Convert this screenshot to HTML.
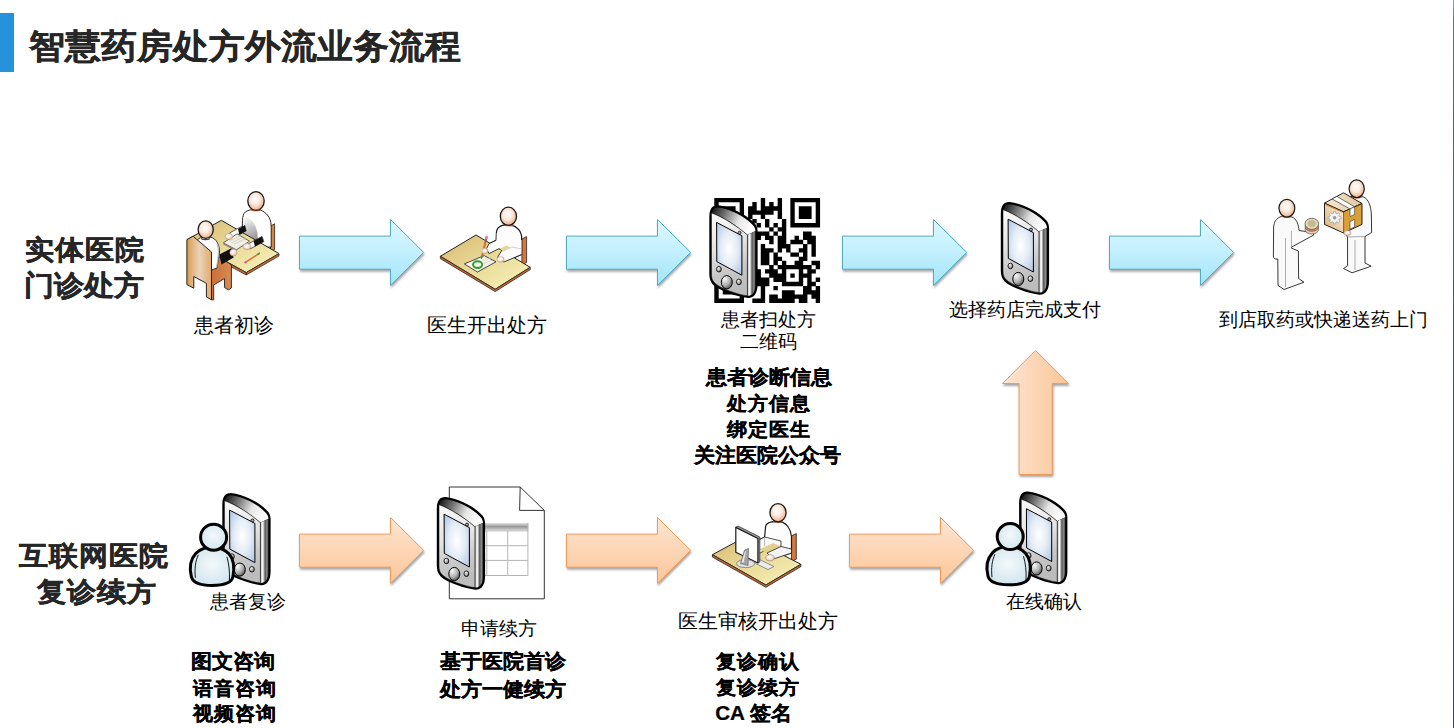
<!DOCTYPE html>
<html><head><meta charset="utf-8"><style>
html,body{margin:0;padding:0;background:#fff;}
body{width:1454px;height:728px;position:relative;overflow:hidden;font-family:"Liberation Sans",sans-serif;}
.t{position:absolute;white-space:nowrap;line-height:1;color:#000;transform-origin:0 0;}
#bar{position:absolute;left:0;top:13px;width:14px;height:59px;background:#2592db;}
#edge{position:absolute;left:1453px;top:0;width:1px;height:728px;background:linear-gradient(180deg,#86a0c8 0px,#5a7294 20px,#4b6488 100px,#3f5576 300px,#2e4870 700px);}
svg{position:absolute;left:0;top:0;}
</style></head><body>
<div id="bar"></div>
<div class="t" id="title" style="left:29.1px;top:29.6px;font-size:35.5px;transform:scaleY(0.95);font-weight:bold;-webkit-text-stroke:0.35px #262626;color:#262626;">智慧药房处方外流业务流程</div>
<div class="t" id="l1a" style="left:25.0px;top:235.6px;font-size:29.5px;transform:scaleY(0.93);font-weight:bold;-webkit-text-stroke:0.45px #262626;color:#262626;">实体医院</div>
<div class="t" id="l1b" style="left:24.0px;top:271.8px;font-size:29.625px;transform:scaleY(0.93);font-weight:bold;-webkit-text-stroke:0.45px #262626;color:#262626;">门诊处方</div>
<div class="t" id="t1" style="left:194.0px;top:316.0px;font-size:19.6px;">患者初诊</div>
<div class="t" id="t2" style="left:427.1px;top:315.8px;font-size:19.5px;">医生开出处方</div>
<div class="t" id="t3a" style="left:721.4px;top:310.5px;font-size:18.55px;">患者扫处方</div>
<div class="t" id="t3b" style="left:739.8px;top:333.0px;font-size:18.55px;">二维码</div>
<div class="t" id="t4" style="left:949.3px;top:301.4px;font-size:18.5px;">选择药店完成支付</div>
<div class="t" id="t5" style="left:1218.8px;top:310.5px;font-size:18.525px;">到店取药或快递送药上门</div>
<div class="t" id="b1" style="left:705.5px;top:368.2px;font-size:20.525px;transform:scaleY(0.95);font-weight:bold;-webkit-text-stroke:0.25px #000;">患者诊断信息</div>
<div class="t" id="b2" style="left:726.7px;top:394.4px;font-size:20.5px;transform:scaleY(0.95);font-weight:bold;-webkit-text-stroke:0.25px #000;">处方信息</div>
<div class="t" id="b3" style="left:726.5px;top:419.8px;font-size:20.5px;transform:scaleY(0.95);font-weight:bold;-webkit-text-stroke:0.25px #000;">绑定医生</div>
<div class="t" id="b4" style="left:693.8px;top:446.4px;font-size:20.525px;transform:scaleY(0.95);font-weight:bold;-webkit-text-stroke:0.25px #000;">关注医院公众号</div>
<div class="t" id="l2a" style="left:19.4px;top:542.2px;font-size:29.5px;transform:scaleY(0.93);font-weight:bold;-webkit-text-stroke:0.45px #262626;color:#262626;">互联网医院</div>
<div class="t" id="l2b" style="left:36.5px;top:578.1px;font-size:29.5px;transform:scaleY(0.93);font-weight:bold;-webkit-text-stroke:0.45px #262626;color:#262626;">复诊续方</div>
<div class="t" id="r1" style="left:209.6px;top:593.4px;font-size:18.5px;">患者复诊</div>
<div class="t" id="c1" style="left:191.1px;top:652.2px;font-size:20.625px;transform:scaleY(0.95);font-weight:bold;-webkit-text-stroke:0.25px #000;">图文咨询</div>
<div class="t" id="c2" style="left:192.6px;top:679.0px;font-size:20.5px;transform:scaleY(0.95);font-weight:bold;-webkit-text-stroke:0.25px #000;">语音咨询</div>
<div class="t" id="c3" style="left:192.6px;top:703.6px;font-size:20.5px;transform:scaleY(0.95);font-weight:bold;-webkit-text-stroke:0.25px #000;">视频咨询</div>
<div class="t" id="r2" style="left:460.7px;top:619.7px;font-size:18.5px;">申请续方</div>
<div class="t" id="d1" style="left:440.1px;top:651.7px;font-size:20.625px;transform:scaleY(0.95);font-weight:bold;-webkit-text-stroke:0.25px #000;">基于医院首诊</div>
<div class="t" id="d2" style="left:440.3px;top:679.5px;font-size:20.525px;transform:scaleY(0.95);font-weight:bold;-webkit-text-stroke:0.25px #000;">处方一健续方</div>
<div class="t" id="r3" style="left:677.9px;top:612.1px;font-size:19.575px;">医生审核开出处方</div>
<div class="t" id="e1" style="left:715.5px;top:651.5px;font-size:20.5px;transform:scaleY(0.95);font-weight:bold;-webkit-text-stroke:0.25px #000;">复诊确认</div>
<div class="t" id="e2" style="left:715.5px;top:678.4px;font-size:20.5px;transform:scaleY(0.95);font-weight:bold;-webkit-text-stroke:0.25px #000;">复诊续方</div>
<div class="t" id="e3" style="left:715.2px;top:704.0px;font-size:20.625px;transform:scaleY(0.95);font-weight:bold;-webkit-text-stroke:0.25px #000;">CA 签名</div>
<div class="t" id="r4" style="left:1006.0px;top:593.1px;font-size:18.55px;">在线确认</div>
<svg width="1454" height="728" viewBox="0 0 1454 728">
<defs>
<linearGradient id="gBlue" x1="0" y1="0" x2="0" y2="1">
 <stop offset="0" stop-color="#dcf8ff"/><stop offset="0.5" stop-color="#c2effd"/><stop offset="1" stop-color="#a0e6fb"/></linearGradient>
<linearGradient id="gOrg" x1="0" y1="0" x2="0" y2="1">
 <stop offset="0" stop-color="#fde5d2"/><stop offset="1" stop-color="#fbc698"/>
</linearGradient>
<filter id="shd" x="-10%" y="-10%" width="125%" height="130%" color-interpolation-filters="sRGB">
 <feDropShadow dx="0.8" dy="2" stdDeviation="1.3" flood-color="#000" flood-opacity="0.35"/>
</filter>
<path id="arrowShape" d="M0.5,17.1 H91.5 V0.5 L124.6,33.4 L91.5,66.4 V50.2 H0.5 Z"/>
<linearGradient id="gPhTop" x1="0" y1="0.2" x2="1" y2="0.5">
 <stop offset="0" stop-color="#1a1a1a"/><stop offset="0.3" stop-color="#777"/><stop offset="0.65" stop-color="#e6e6e6"/><stop offset="1" stop-color="#ffffff"/></linearGradient>
<linearGradient id="gPhFace" x1="0" y1="0" x2="0.15" y2="1">
 <stop offset="0" stop-color="#fbfbfb"/><stop offset="0.45" stop-color="#e4e4e4"/><stop offset="0.75" stop-color="#c8c8c8"/><stop offset="1" stop-color="#bcbcbc"/></linearGradient>
<linearGradient id="gPhSide" x1="0" y1="0" x2="1" y2="0">
 <stop offset="0" stop-color="#c4c4c4"/><stop offset="0.25" stop-color="#ffffff"/><stop offset="0.55" stop-color="#5a5a5a"/><stop offset="0.8" stop-color="#8a8a8a"/><stop offset="1" stop-color="#333"/></linearGradient>
<radialGradient id="gScreen" cx="0.5" cy="0.5" r="0.65">
 <stop offset="0" stop-color="#ffffff"/><stop offset="0.5" stop-color="#e4ecf6"/><stop offset="1" stop-color="#b4c8e4"/></radialGradient>
<radialGradient id="gBtn" cx="0.3" cy="0.25" r="0.9">
 <stop offset="0" stop-color="#fafafa"/><stop offset="0.55" stop-color="#b0b0b0"/><stop offset="1" stop-color="#3a3a3a"/></radialGradient>
<symbol id="phone" viewBox="0 0 48 92" overflow="visible" preserveAspectRatio="none">
 <path d="M0.8,12 C0.8,4 3.5,0.8 8.5,1 C20,2.2 36,10 43.5,18 C46.3,20.5 47.1,23 47.1,26 L47.1,79 C47.1,87 44,92 38.5,91.8 C28,90.8 10,84 4.5,79 C1.6,76 0.8,72.5 0.8,69 Z" fill="#000" stroke="#000" stroke-width="2" stroke-linejoin="round"/>
 <path d="M2,11 C2,5.2 4.5,2.2 8.5,2.3 C20,3.6 35,11 42.5,19 C44.6,21 45.8,23 46,25.8 L37.9,29.6 C28,21 14,11.5 2,7.3 Z" fill="url(#gPhTop)"/>
 <path d="M2,7.8 C14,12 28,21.3 37.9,29.8 L37.9,90.6 C27,89.3 11,83 5.5,78 C2.7,75.5 2,72.5 2,69 Z" fill="url(#gPhFace)" stroke="#111" stroke-width="0.5"/>
 <path d="M38.4,29.6 L46,25.8 L46,79 C46,86.5 43,90.6 38.4,90.6 Z" fill="url(#gPhSide)"/>
 <path d="M7.1,17.2 L32.4,30.6 L32.4,70 L7.3,56.4 Z" fill="url(#gScreen)" stroke="#000" stroke-width="1"/>
 <circle cx="30" cy="27.6" r="1.5" fill="#aaa" stroke="#000" stroke-width="0.8"/>
 <ellipse cx="9.4" cy="64" rx="2.4" ry="2.8" fill="url(#gBtn)" stroke="#000" stroke-width="0.8"/>
 <ellipse cx="29.4" cy="76.7" rx="2.4" ry="2.8" fill="url(#gBtn)" stroke="#000" stroke-width="0.8"/>
 <ellipse cx="17.3" cy="77" rx="5.5" ry="6.6" fill="url(#gBtn)" stroke="#000" stroke-width="1"/>
</symbol>
<radialGradient id="gUser" cx="0.5" cy="0.45" r="0.6">
 <stop offset="0" stop-color="#f3f9fb"/><stop offset="1" stop-color="#cfe4ec"/>
</radialGradient>
<symbol id="user" viewBox="0 0 50 66" overflow="visible" preserveAspectRatio="none">
 <path d="M4.5,55 C2.5,47 3,38 9,31.5 C13,27.3 18.5,25.4 25,25.4 C32,25.4 38,27.8 42,32 C47,37.5 47.5,47 46,55 C45,61 39,63.6 25,63.6 C12,63.6 6,60.5 4.5,55 Z" fill="url(#gUser)" stroke="#000" stroke-width="3"/>
 <path d="M11.5,33 C8.5,39 7.5,47 8.5,56" fill="none" stroke="#000" stroke-width="0.9"/>
 <path d="M40,35 C42,42 43,50 42.5,59" fill="none" stroke="#000" stroke-width="0.9"/>
 <circle cx="26.7" cy="15.4" r="13" fill="url(#gUser)" stroke="#000" stroke-width="3"/>
</symbol>
<radialGradient id="gSkin" cx="0.45" cy="0.4" r="0.62">
 <stop offset="0" stop-color="#ffffff"/><stop offset="0.45" stop-color="#fcebe0"/><stop offset="0.8" stop-color="#f2c2a4"/><stop offset="1" stop-color="#e2a07c"/></radialGradient>
<linearGradient id="gDesk" x1="0" y1="0" x2="1" y2="1">
 <stop offset="0" stop-color="#d6b872"/><stop offset="0.5" stop-color="#eadb98"/><stop offset="1" stop-color="#f7f3bc"/></linearGradient>
<linearGradient id="gChair" x1="0" y1="0" x2="1" y2="0">
 <stop offset="0" stop-color="#dc9c4c"/><stop offset="0.5" stop-color="#ead2bc"/><stop offset="1" stop-color="#e2aa68"/></linearGradient>
<linearGradient id="gShirt" x1="0" y1="0" x2="1" y2="0">
 <stop offset="0" stop-color="#ffffff"/><stop offset="0.6" stop-color="#e8e8e8"/><stop offset="1" stop-color="#9a9a9a"/>
</linearGradient>
</defs>

<g filter="url(#shd)">
 <use href="#arrowShape" transform="translate(299,219)" fill="url(#gBlue)" stroke="#52aac6" stroke-width="1"/>
 <use href="#arrowShape" transform="translate(566,219)" fill="url(#gBlue)" stroke="#52aac6" stroke-width="1"/>
 <use href="#arrowShape" transform="translate(842,219)" fill="url(#gBlue)" stroke="#52aac6" stroke-width="1"/>
 <use href="#arrowShape" transform="translate(1109,219)" fill="url(#gBlue)" stroke="#52aac6" stroke-width="1"/>
 <use href="#arrowShape" transform="translate(299,517)" fill="url(#gOrg)" stroke="#f29a58" stroke-width="1"/>
 <use href="#arrowShape" transform="translate(566,517)" fill="url(#gOrg)" stroke="#f29a58" stroke-width="1"/>
 <use href="#arrowShape" transform="translate(849,517)" fill="url(#gOrg)" stroke="#f29a58" stroke-width="1"/>
 <use href="#arrowShape" transform="translate(1002,475) rotate(-90)" fill="url(#gOrg)" stroke="#f29a58" stroke-width="1"/>
</g>

<!-- ===== Icon A: patient & doctor at desk ===== -->
<g id="iconA" stroke-linejoin="round">
 <linearGradient id="gDocShade" x1="0" y1="0" x2="0.3" y2="1"><stop offset="0" stop-color="#ffffff"/><stop offset="1" stop-color="#8c8c8c"/></linearGradient>
 <linearGradient id="gChairSide" x1="0" y1="0" x2="1" y2="0"><stop offset="0" stop-color="#c9703a"/><stop offset="1" stop-color="#d98a52"/></linearGradient>
 <!-- doctor chair strip -->
 <path d="M270.5,226 L274.6,223.8 L274.6,249.6 L270.5,251.8 Z" fill="#d9853f" stroke="#222" stroke-width="0.8"/>
 <!-- doctor body -->
 <path d="M250.3,209.8 C246.5,210.8 243.8,212.3 243.2,215.5 C242.6,218.5 242.3,222 242.3,226 L242.3,236 L262,247.5 L271.2,247 L271.2,226 C271,221 269.8,218 268,215.8 C266,213 263,211 260.8,210.2 Z" fill="#fff" stroke="#222" stroke-width="1"/>
 <path d="M243.5,217 C250,217 255.5,223 257.5,233 L258,246 L243.5,237.5 Z" fill="url(#gDocShade)"/>
 <!-- desk top -->
 <path d="M221.3,220.3 L279,253.6 L246.2,272.6 L187.2,239.6 Z" fill="url(#gDesk)" stroke="#222" stroke-width="1"/>
 <path d="M279,253.6 L279,256 L246.2,275 L246.2,272.6 Z" fill="#c8692e" stroke="#222" stroke-width="0.7"/>
 <path d="M231.4,264.5 L246.2,272.6 L246.2,275 L231.4,267 Z" fill="#c8692e" stroke="#222" stroke-width="0.7"/>
 <!-- doctor left arm -->
 <path d="M242.3,226 L229.5,233 L232,237.5 L244.5,231 Z" fill="#fff" stroke="#222" stroke-width="0.7"/>
 <path d="M238,229 L245,225 L246.5,231 L239.5,235 Z" fill="#111"/>
 <!-- paper -->
 <path d="M223.4,242.9 L237,233.8 L249.5,241.2 L236.4,249.8 Z" fill="#f1efe4" stroke="#444" stroke-width="0.8"/>
 <path d="M223.4,242.9 L236.4,249.8 L236.4,251.4 L223.4,244.5 Z" fill="#8a8a8a"/>
 <path d="M229,241.2 L240.5,235.6 M231.5,242.7 L243,237.1 M234,244.2 L245.5,238.6" stroke="#c4c1b2" stroke-width="0.6"/>
 <!-- doctor right arm -->
 <path d="M248,244 L262,236.5 L264,241.5 L250,249 Z" fill="#fff" stroke="#222" stroke-width="0.7"/>
 <path d="M253.5,241 L262,236.5 L263.5,241.8 L255,246.5 Z" fill="#111"/>
 <!-- doctor hands -->
 <ellipse cx="228.8" cy="236.6" rx="3.8" ry="3" fill="url(#gSkin)" stroke="#999" stroke-width="0.5"/>
 <ellipse cx="247" cy="246.6" rx="4" ry="3" fill="url(#gSkin)" stroke="#999" stroke-width="0.5"/>
 <!-- pencil -->
 <path d="M245.4,262.4 L258.6,253.8" stroke="#d07a3a" stroke-width="1.6" stroke-linecap="round"/>
 <path d="M244.6,263 L246.8,261.6" stroke="#d05aa0" stroke-width="1.7"/>
 <path d="M257.8,254.3 L259.8,253" stroke="#2a9a3a" stroke-width="1.5"/>
 <!-- doctor head -->
 <path d="M251,209.4 Q256,211.6 261,209.4" stroke="#e0582c" stroke-width="1.6" fill="none"/><ellipse cx="256" cy="201" rx="8.2" ry="9.4" fill="url(#gSkin)" stroke="#1a1a1a" stroke-width="1.3"/>
 <!-- chair side -->
 <path d="M211.5,252 L231.4,264.8 L231.4,288 L228.4,289.8 L224.5,287.6 L224.5,278.5 L213.7,285 L213.7,299.8 L211.5,299.8 Z" fill="url(#gChairSide)" stroke="#222" stroke-width="0.9"/>
 <!-- patient body -->
 <path d="M197.5,240 C200,236 210,235.5 214.5,239 C218.5,242.5 219.5,248 219.5,252 L217,268 L211.5,270 L197.5,258 Z" fill="#fff" stroke="#222" stroke-width="0.9"/>
 <path d="M217.5,244 C219,250 218.5,258 216.5,267.5" fill="none" stroke="#bbb" stroke-width="1.2"/>
 <path d="M219.3,254.5 L231.4,248.2 L233.6,257.6 L221.5,264.4 Z" fill="#111"/>
 <ellipse cx="233.4" cy="252.6" rx="3.6" ry="3.4" fill="url(#gSkin)" stroke="#999" stroke-width="0.5"/>
 <!-- patient head -->
 <ellipse cx="205.7" cy="229.6" rx="7.6" ry="8.8" fill="url(#gSkin)" stroke="#1a1a1a" stroke-width="1.3"/>
 <path d="M201,238.5 C203,240 208,240 210,238.5" stroke="#444" stroke-width="1.2" fill="none"/>
 <!-- chair back panel -->
 <path d="M186.9,239.6 L193,236.2 L211.5,252 L211.5,299.8 L206.4,297 L206.4,283.3 L193.8,276.5 L193.8,288.2 L186.9,284.6 Z" fill="url(#gChair)" stroke="#222" stroke-width="1"/>
</g>
<!-- ===== Icon B: doctor writing ===== -->
<g stroke-linejoin="round">
 <path d="M521.9,239 L526.6,236.6 L526.6,262.4 L521.9,264.8 Z" fill="#d9773a" stroke="#222" stroke-width="0.8"/>
 <path d="M503.4,225.2 C500.5,226 498,227.5 497,229.7 C496.4,231 496.4,232 496.4,233.5 L496,240.4 L489,243.7 L486.5,248.7 L489,253.6 L498.9,248.7 L502,250 L497.5,257.5 L503.8,262 L521.6,254.5 L521.6,236 C520.8,232.5 519.5,230 517.5,228.5 C516,227 514.5,226 512.9,225.6 Z" fill="#fdfdfd" stroke="#1a1a1a" stroke-width="1.2"/>
 <path d="M476,235 L530.2,267.3 L495.2,289.3 L440.3,256.3 Z" fill="url(#gDesk)" stroke="#222" stroke-width="1"/>
 <path d="M440.3,256.3 L440.3,258.6 L495.2,291.6 L530.2,269.6 L530.2,267.3 L495.2,289.3 Z" fill="#c8692e" stroke="#222" stroke-width="0.8"/>
 <path d="M496,240.4 L489,243.7 L486.5,248.7 L489,253.6 L498.9,248.7 L502,250 L497.5,257.5 L503.8,262 L521.6,254.5 L521.6,240 L508,238 Z" fill="#fdfdfd"/>
 <path d="M496,240.4 L489,243.7 L486.5,248.7 L489,253.6 L498.9,248.7 L502,250 L497.5,257.5 L503.8,262 L521.6,254.5" fill="none" stroke="#222" stroke-width="0.9"/>
 <path d="M499.5,248.9 L506.5,245.6 L510,247.3 L502.8,250.8 Z" fill="#e6d48c"/>
 <path d="M502.5,251.5 L512,247 L521.6,249" fill="none" stroke="#bbb" stroke-width="0.7"/>
 <path d="M496.2,233 L496.2,240" stroke="#ccc" stroke-width="0.7"/>
 <path d="M464.3,263.9 L484.2,255.6 L496,261.8 L477.4,272.1 Z" fill="#f3f1e8" stroke="#222" stroke-width="0.8"/>
 <path d="M480,262 L490,258.5 M482,264 L492,260.5" stroke="#d6d3c4" stroke-width="0.6"/>
 <ellipse cx="477.6" cy="264.6" rx="4.6" ry="3.4" fill="none" stroke="#2aa02a" stroke-width="1.9"/>
 <path d="M486.4,237.5 L482,256.8" stroke="#d5722f" stroke-width="2.1" stroke-linecap="round"/>
 <path d="M486.3,239.8 L485.8,242" stroke="#607080" stroke-width="2"/>
 <ellipse cx="486.6" cy="237.2" rx="1.3" ry="1.5" fill="#f070a8"/>
 <path d="M482.3,255.5 L481.3,258.8" stroke="#2a9a3a" stroke-width="1.3"/>
 <ellipse cx="484.8" cy="251" rx="3" ry="2.7" fill="url(#gSkin)" stroke="#aaa" stroke-width="0.5"/>
 <ellipse cx="500.6" cy="259.4" rx="3.6" ry="2.8" fill="url(#gSkin)" stroke="#aaa" stroke-width="0.5"/>
 <path d="M503.4,224.4 Q508.4,226.6 513.4,224.4" stroke="#e0582c" stroke-width="1.6" fill="none"/><ellipse cx="508.4" cy="216.3" rx="8.1" ry="9.1" fill="url(#gSkin)" stroke="#1a1a1a" stroke-width="1.3"/>
</g>
<!-- ===== Icon F: doctor at computer ===== -->
<g stroke-linejoin="round">
 <path d="M791.5,536 L796.3,533.5 L796.3,559.2 L791.5,561.7 Z" fill="#d9773a" stroke="#222" stroke-width="0.8"/>
 <path d="M772.3,521.6 C768.5,522.5 766,524 765.6,526.5 L764.6,537 L756,541.5 L756,552 L773.3,559 L791.5,553 L791.5,536.5 C791,532 790,529.5 788.5,527.5 C786.5,524.5 784.5,523 782.4,522.1 Z" fill="#fdfdfd" stroke="#1a1a1a" stroke-width="1.2"/>
 <path d="M746.7,536.2 L800.9,564.3 L765.9,585 L712.4,554.7 Z" fill="url(#gDesk)" stroke="#222" stroke-width="1"/>
 <path d="M712.4,554.7 L712.4,557 L765.9,587.3 L800.9,566.6 L800.9,564.3 L765.9,585 Z" fill="#c8692e" stroke="#222" stroke-width="0.8"/>
 <path d="M764.6,537 L756,541.5 L756,552 L760,553 L768,549 L781,546 L781,541 Z" fill="#fafafa" stroke="#222" stroke-width="0.8"/>
 <path d="M759,549.5 L773,543 L781,546.5 L767,553 Z" fill="#e3d08a"/>
 <path d="M767,553 L781,546.5 L791.5,549 L791.5,553 L773.3,559 Z" fill="#f4f4f4" stroke="#222" stroke-width="0.8"/>
 <path d="M764.6,537 L764.6,546" stroke="#999" stroke-width="0.7"/>
 <path d="M759.5,559.5 L774,566.5 L768,569.5 L753.5,562.5 Z" fill="#ececec" stroke="#777" stroke-width="0.8"/>
 <ellipse cx="770" cy="557.8" rx="4.3" ry="3.1" fill="url(#gSkin)" stroke="#888" stroke-width="0.5"/>
 <path d="M735.8,527.2 L738,526 L759.8,537 L759.8,562 L757.9,563 Z" fill="#9c9c9c" stroke="#333" stroke-width="0.8"/>
 <path d="M735.8,527.4 L757.9,538.5 L757.9,563 L735.8,552.2 Z" fill="#fdfdfd" stroke="#1a1a1a" stroke-width="1.2"/>
 <ellipse cx="745.5" cy="563.6" rx="9" ry="4" fill="#e2e2e2" stroke="#777" stroke-width="0.8"/>
 <path d="M740.5,563.5 L744.5,550 L748.5,548.5 L748,565.5 Z" fill="#a4a4a4" stroke="#666" stroke-width="0.7"/>
 <path d="M741.5,562 L745,551.5 L746,551 L743.5,563 Z" fill="#e8e8e8"/>
 <path d="M773,520.8 Q778,523 783,520.8" stroke="#e0582c" stroke-width="1.6" fill="none"/><ellipse cx="778" cy="512.7" rx="8.1" ry="9.1" fill="url(#gSkin)" stroke="#1a1a1a" stroke-width="1.3"/>
</g>
<!-- ===== Icon E: document ===== -->
<g>
 <path d="M449.3,487 L520.2,487 L544.3,510.4 L544.3,598.8 L449.3,598.8 Z" fill="#fff" stroke="#333" stroke-width="1"/>
 <path d="M520.2,487 L519.6,510.4 L544.3,510.4" fill="none" stroke="#333" stroke-width="1"/>
 <linearGradient id="gHdr" x1="0" y1="0" x2="0" y2="1"><stop offset="0" stop-color="#e6e6e6"/><stop offset="0.5" stop-color="#9a9a9a"/><stop offset="1" stop-color="#d0d0d0"/></linearGradient>
 <rect x="483.6" y="522.9" width="44.6" height="7.3" fill="url(#gHdr)"/>
 <path d="M484,530.9 H528.2 M484,545.7 H528.2 M484,560.4 H528.2 M484,575.5 H528.2 M486.8,530.9 V575.5 M507.7,530.9 V575.5 M527.9,522.9 V575.5" stroke="#b5b5b5" stroke-width="1" fill="none"/>
</g>
<!-- ===== Icon D: delivery ===== -->
<linearGradient id="gBoxR" x1="0" y1="0" x2="1" y2="0"><stop offset="0" stop-color="#d08a28"/><stop offset="1" stop-color="#e6ac48"/></linearGradient>
<linearGradient id="gBoxL" x1="1" y1="0" x2="0" y2="1"><stop offset="0" stop-color="#fff8ee"/><stop offset="1" stop-color="#d8ac6a"/></linearGradient>
<g stroke-linejoin="round">
 <!-- left person -->
 <path d="M1281,216.5 C1276,218.5 1274,222 1273.6,227 L1273.4,256 C1273.4,258.5 1275,259.5 1277.8,259 L1278,285.5 L1284,289.5 L1304,282.2 L1298.6,278.5 L1298.4,251 L1291.5,248.2 L1291.4,247.2 L1313.8,235 L1313,232.6 L1299,230.5 C1298.6,225 1297,220 1293.5,217.8 C1290,215.5 1285,215 1281,216.5 Z" fill="#fafafa" stroke="#222" stroke-width="0.9"/>
 <path d="M1285.5,238 L1285.5,287 M1291.4,247.5 L1291.4,231" stroke="#777" stroke-width="0.6" fill="none"/>
 <path d="M1282,216.3 Q1287,218.5 1292,216.3" stroke="#e0582c" stroke-width="1.4" fill="none"/><ellipse cx="1286.9" cy="208.2" rx="7.9" ry="8.9" fill="url(#gSkin)" stroke="#1a1a1a" stroke-width="1.2"/>
 <!-- coins -->
 <ellipse cx="1311.8" cy="229.5" rx="6.8" ry="4.5" fill="#e6d0b0" stroke="#555" stroke-width="0.7"/>
 <ellipse cx="1311.8" cy="226.8" rx="6.8" ry="4.5" fill="#d98a5a" stroke="#555" stroke-width="0.7"/>
 <ellipse cx="1311.8" cy="223.8" rx="6.8" ry="5.6" fill="#e3d8b8" stroke="#555" stroke-width="0.8"/>
 <ellipse cx="1311.8" cy="223.5" rx="4" ry="3.5" fill="#c8b890" stroke="none"/>
 <!-- right person -->
 <path d="M1351,196.5 C1346,198 1344.5,202 1344,207 L1344,232 L1347.5,237 L1347.6,265.8 L1343.5,268.5 L1352,272.8 L1371.2,266.2 L1365,263 L1365,236.5 L1371.6,232.5 L1371.4,215 C1371,206 1368.5,199 1363.5,197 C1360,195.5 1355,195.3 1351,196.5 Z" fill="#fafafa" stroke="#222" stroke-width="0.9"/>
 <path d="M1355,240 L1355,270 M1347.5,237 L1365,236.5" stroke="#777" stroke-width="0.6" fill="none"/>
 <path d="M1352,196.8 Q1357,199 1362,196.8" stroke="#e0582c" stroke-width="1.4" fill="none"/><ellipse cx="1356.7" cy="188.7" rx="7.6" ry="8.9" fill="url(#gSkin)" stroke="#1a1a1a" stroke-width="1.2"/>
 <!-- box -->
 <linearGradient id="gBoxTop" x1="0" y1="0" x2="1" y2="0"><stop offset="0" stop-color="#f6ead6"/><stop offset="1" stop-color="#e2c69a"/></linearGradient>
 <path d="M1324.5,203.1 L1343.5,192.8 L1362,203.5 L1343.5,211.8 Z" fill="url(#gBoxTop)" stroke="#222" stroke-width="1"/>
 <path d="M1324.5,203.1 L1343.5,211.8 L1343.5,233 L1324.5,224.4 Z" fill="url(#gBoxL)" stroke="#222" stroke-width="1"/>
 <path d="M1325.6,204.6 L1342.6,212.4" fill="none" stroke="#e0782a" stroke-width="1"/>
 <path d="M1343.5,211.8 L1362,203.5 L1362,224.4 L1343.5,233 Z" fill="#d9a038" stroke="#222" stroke-width="1"/>
 <path d="M1343.8,212.5 L1343.8,232.5" stroke="#e07a2a" stroke-width="1"/>
 <path d="M1332.1,199 L1336.8,196.4 L1354.6,206.8 L1350,208.9 Z" fill="#fff" stroke="#333" stroke-width="0.7"/>
 <path d="M1350,208.9 L1354.6,206.8 L1354.6,214.4 L1350,216.5 Z M1350,221.5 L1354.6,219.4 L1354.6,227 L1350,229.1 Z" fill="#fffaf0" stroke="#333" stroke-width="0.6"/>
 <path d="M1339.32,216.56 L1341.11,216.79 L1341.11,218.81 L1339.32,219.04 L1338.86,220.09 L1339.96,221.46 L1338.45,222.89 L1337.02,221.85 L1335.91,222.29 L1335.66,223.99 L1333.54,223.99 L1333.29,222.29 L1332.18,221.85 L1330.75,222.89 L1329.24,221.46 L1330.34,220.09 L1329.88,219.04 L1328.09,218.81 L1328.09,216.79 L1329.88,216.56 L1330.34,215.51 L1329.24,214.14 L1330.75,212.71 L1332.18,213.75 L1333.29,213.31 L1333.54,211.61 L1335.66,211.61 L1335.91,213.31 L1337.02,213.75 L1338.45,212.71 L1339.96,214.14 L1338.86,215.51Z" fill="#f2f2f2" stroke="#a8a8a8" stroke-width="0.9"/>
 <circle cx="1334.6" cy="217.8" r="1.8" fill="#9a9a9a"/>
 <ellipse cx="1347.5" cy="233" rx="3.5" ry="2.5" fill="url(#gSkin)" stroke="#999" stroke-width="0.5"/>
</g>
<path fill="#000" d="M714.30,197.90h29.72v4.35h-29.72ZM760.77,197.90h4.38v4.35h-4.38ZM777.67,197.90h4.38v4.35h-4.38ZM790.35,197.90h29.72v4.35h-29.72ZM714.30,202.09h4.38v4.35h-4.38ZM739.65,202.09h4.38v4.35h-4.38ZM752.32,202.09h4.38v4.35h-4.38ZM760.77,202.09h4.38v4.35h-4.38ZM769.22,202.09h4.38v4.35h-4.38ZM777.67,202.09h4.38v4.35h-4.38ZM790.35,202.09h4.38v4.35h-4.38ZM815.70,202.09h4.38v4.35h-4.38ZM714.30,206.29h4.38v4.35h-4.38ZM722.75,206.29h12.82v4.35h-12.82ZM739.65,206.29h4.38v4.35h-4.38ZM748.10,206.29h8.60v4.35h-8.60ZM760.77,206.29h21.27v4.35h-21.27ZM790.35,206.29h4.38v4.35h-4.38ZM798.80,206.29h12.82v4.35h-12.82ZM815.70,206.29h4.38v4.35h-4.38ZM714.30,210.49h4.38v4.35h-4.38ZM722.75,210.49h12.82v4.35h-12.82ZM739.65,210.49h4.38v4.35h-4.38ZM748.10,210.49h25.50v4.35h-25.50ZM777.67,210.49h4.38v4.35h-4.38ZM790.35,210.49h4.38v4.35h-4.38ZM798.80,210.49h12.82v4.35h-12.82ZM815.70,210.49h4.38v4.35h-4.38ZM714.30,214.68h4.38v4.35h-4.38ZM722.75,214.68h12.82v4.35h-12.82ZM739.65,214.68h4.38v4.35h-4.38ZM748.10,214.68h4.38v4.35h-4.38ZM760.77,214.68h4.38v4.35h-4.38ZM777.67,214.68h4.38v4.35h-4.38ZM790.35,214.68h4.38v4.35h-4.38ZM798.80,214.68h12.82v4.35h-12.82ZM815.70,214.68h4.38v4.35h-4.38ZM714.30,218.88h4.38v4.35h-4.38ZM739.65,218.88h4.38v4.35h-4.38ZM752.32,218.88h4.38v4.35h-4.38ZM765.00,218.88h4.38v4.35h-4.38ZM781.90,218.88h4.38v4.35h-4.38ZM790.35,218.88h4.38v4.35h-4.38ZM815.70,218.88h4.38v4.35h-4.38ZM714.30,223.07h29.72v4.35h-29.72ZM748.10,223.07h4.38v4.35h-4.38ZM756.55,223.07h4.38v4.35h-4.38ZM765.00,223.07h4.38v4.35h-4.38ZM773.45,223.07h4.38v4.35h-4.38ZM781.90,223.07h4.38v4.35h-4.38ZM790.35,223.07h29.72v4.35h-29.72ZM748.10,227.27h4.38v4.35h-4.38ZM769.22,227.27h4.38v4.35h-4.38ZM777.67,227.27h8.60v4.35h-8.60ZM722.75,231.46h8.60v4.35h-8.60ZM739.65,231.46h8.60v4.35h-8.60ZM752.32,231.46h17.05v4.35h-17.05ZM773.45,231.46h4.38v4.35h-4.38ZM781.90,231.46h4.38v4.35h-4.38ZM803.02,231.46h8.60v4.35h-8.60ZM722.75,235.66h12.82v4.35h-12.82ZM748.10,235.66h4.38v4.35h-4.38ZM756.55,235.66h4.38v4.35h-4.38ZM765.00,235.66h8.60v4.35h-8.60ZM777.67,235.66h8.60v4.35h-8.60ZM794.57,235.66h4.38v4.35h-4.38ZM803.02,235.66h12.82v4.35h-12.82ZM726.97,239.85h4.38v4.35h-4.38ZM735.42,239.85h21.27v4.35h-21.27ZM769.22,239.85h4.38v4.35h-4.38ZM777.67,239.85h8.60v4.35h-8.60ZM790.35,239.85h12.82v4.35h-12.82ZM807.25,239.85h8.60v4.35h-8.60ZM714.30,244.05h4.38v4.35h-4.38ZM722.75,244.05h4.38v4.35h-4.38ZM739.65,244.05h4.38v4.35h-4.38ZM748.10,244.05h8.60v4.35h-8.60ZM760.77,244.05h4.38v4.35h-4.38ZM777.67,244.05h12.82v4.35h-12.82ZM803.02,244.05h4.38v4.35h-4.38ZM811.47,244.05h4.38v4.35h-4.38ZM714.30,248.24h21.27v4.35h-21.27ZM739.65,248.24h4.38v4.35h-4.38ZM748.10,248.24h4.38v4.35h-4.38ZM760.77,248.24h12.82v4.35h-12.82ZM777.67,248.24h4.38v4.35h-4.38ZM786.12,248.24h4.38v4.35h-4.38ZM798.80,248.24h8.60v4.35h-8.60ZM811.47,248.24h4.38v4.35h-4.38ZM714.30,252.44h4.38v4.35h-4.38ZM726.97,252.44h8.60v4.35h-8.60ZM743.88,252.44h8.60v4.35h-8.60ZM760.77,252.44h8.60v4.35h-8.60ZM773.45,252.44h4.38v4.35h-4.38ZM790.35,252.44h8.60v4.35h-8.60ZM803.02,252.44h4.38v4.35h-4.38ZM811.47,252.44h4.38v4.35h-4.38ZM714.30,256.63h4.38v4.35h-4.38ZM722.75,256.63h4.38v4.35h-4.38ZM735.42,256.63h12.82v4.35h-12.82ZM760.77,256.63h8.60v4.35h-8.60ZM773.45,256.63h8.60v4.35h-8.60ZM798.80,256.63h8.60v4.35h-8.60ZM718.52,260.82h12.82v4.35h-12.82ZM739.65,260.82h4.38v4.35h-4.38ZM760.77,260.82h8.60v4.35h-8.60ZM773.45,260.82h4.38v4.35h-4.38ZM781.90,260.82h4.38v4.35h-4.38ZM794.57,260.82h8.60v4.35h-8.60ZM811.47,260.82h8.60v4.35h-8.60ZM722.75,265.02h12.82v4.35h-12.82ZM743.88,265.02h12.82v4.35h-12.82ZM769.22,265.02h4.38v4.35h-4.38ZM777.67,265.02h33.95v4.35h-33.95ZM815.70,265.02h4.38v4.35h-4.38ZM752.32,269.22h8.60v4.35h-8.60ZM765.00,269.22h12.82v4.35h-12.82ZM781.90,269.22h4.38v4.35h-4.38ZM798.80,269.22h4.38v4.35h-4.38ZM807.25,269.22h8.60v4.35h-8.60ZM714.30,273.41h29.72v4.35h-29.72ZM748.10,273.41h12.82v4.35h-12.82ZM769.22,273.41h17.05v4.35h-17.05ZM790.35,273.41h4.38v4.35h-4.38ZM798.80,273.41h12.82v4.35h-12.82ZM714.30,277.61h4.38v4.35h-4.38ZM739.65,277.61h4.38v4.35h-4.38ZM748.10,277.61h4.38v4.35h-4.38ZM756.55,277.61h12.82v4.35h-12.82ZM773.45,277.61h12.82v4.35h-12.82ZM798.80,277.61h4.38v4.35h-4.38ZM807.25,277.61h4.38v4.35h-4.38ZM815.70,277.61h4.38v4.35h-4.38ZM714.30,281.80h4.38v4.35h-4.38ZM722.75,281.80h12.82v4.35h-12.82ZM739.65,281.80h4.38v4.35h-4.38ZM748.10,281.80h21.27v4.35h-21.27ZM781.90,281.80h21.27v4.35h-21.27ZM807.25,281.80h8.60v4.35h-8.60ZM714.30,286.00h4.38v4.35h-4.38ZM722.75,286.00h12.82v4.35h-12.82ZM739.65,286.00h4.38v4.35h-4.38ZM760.77,286.00h4.38v4.35h-4.38ZM773.45,286.00h4.38v4.35h-4.38ZM803.02,286.00h8.60v4.35h-8.60ZM815.70,286.00h4.38v4.35h-4.38ZM714.30,290.19h4.38v4.35h-4.38ZM722.75,290.19h12.82v4.35h-12.82ZM739.65,290.19h4.38v4.35h-4.38ZM760.77,290.19h4.38v4.35h-4.38ZM781.90,290.19h12.82v4.35h-12.82ZM803.02,290.19h17.05v4.35h-17.05ZM714.30,294.38h4.38v4.35h-4.38ZM739.65,294.38h4.38v4.35h-4.38ZM760.77,294.38h4.38v4.35h-4.38ZM769.22,294.38h8.60v4.35h-8.60ZM781.90,294.38h25.50v4.35h-25.50ZM811.47,294.38h8.60v4.35h-8.60ZM714.30,298.58h29.72v4.35h-29.72ZM752.32,298.58h12.82v4.35h-12.82ZM769.22,298.58h25.50v4.35h-25.50ZM798.80,298.58h8.60v4.35h-8.60ZM815.70,298.58h4.38v4.35h-4.38Z"/><!-- ===== phones ===== -->
<use href="#phone" x="1001" y="202" width="48" height="92"/>
<use href="#phone" x="709.5" y="205.2" width="48" height="92"/>
<use href="#phone" x="222.5" y="493" width="48" height="91.5"/>
<use href="#phone" x="437" y="497" width="48" height="92"/>
<use href="#phone" x="1019.3" y="491.5" width="48" height="92"/>
<!-- users -->
<use href="#user" x="186.9" y="521.8" width="50" height="66"/>
<use href="#user" x="983.5" y="521.2" width="50" height="66"/>

</svg>
<div id="edge"></div>
</body></html>
